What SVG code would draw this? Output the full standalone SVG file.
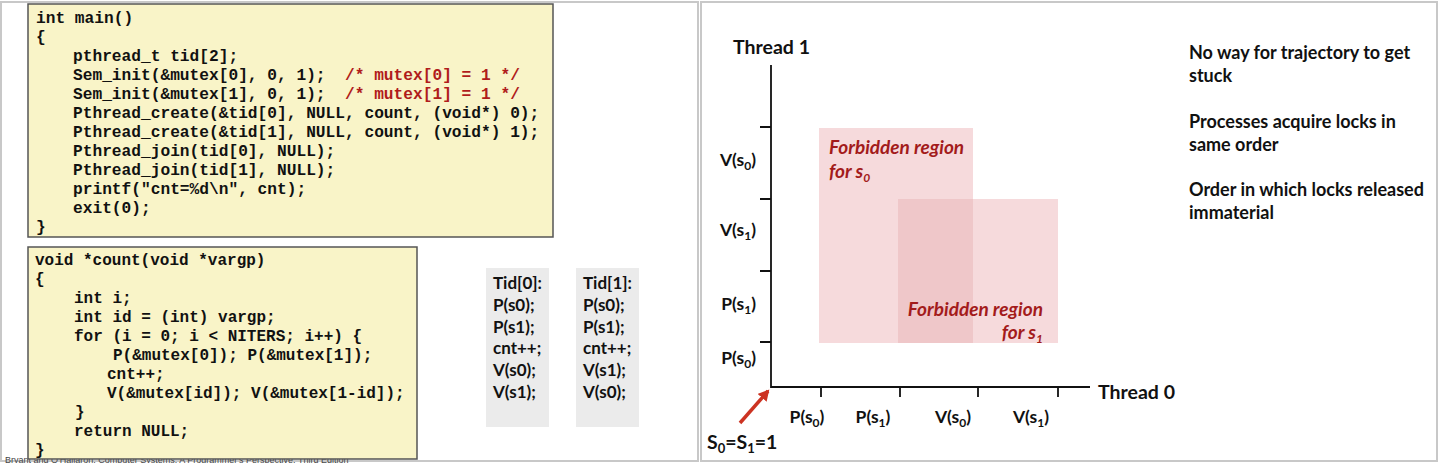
<svg xmlns="http://www.w3.org/2000/svg" width="1440" height="463" viewBox="0 0 1440 463">
<style>
.code{font-family:"Liberation Mono",monospace;font-weight:bold;font-size:16px;fill:#111}
.c1{font-size:16.2px}
.cmt{fill:#b01c1c}
.box{fill:#f9f4c8;stroke:#555;stroke-width:1.5}
.tid{fill:#ebebeb}
.tt{font-family:Lato,"Open Sans",sans-serif;font-weight:bold;font-size:17px;fill:#111}
.lbl{font-family:Lato,"Open Sans",sans-serif;font-weight:bold;font-size:17.5px;fill:#111}
.sub{font-size:12px}
.big{font-family:Lato,"Open Sans",sans-serif;font-weight:bold;font-size:19.5px;fill:#111}
.fr{font-family:Lato,"Open Sans",sans-serif;font-weight:bold;font-style:italic;font-size:19px;fill:#a31b1b}
.note{font-family:Lato,"Open Sans",sans-serif;font-weight:bold;font-size:18px;fill:#111}
.ax{stroke:#111;stroke-width:1.8;fill:none}
.reg{fill:#f6dadc}
.ovl{fill:#efc7c9}
.panel{fill:#fff;stroke:#c8c8c8;stroke-width:2}
</style>
<defs>
<marker id="ah" markerWidth="12" markerHeight="12" refX="9" refY="6" orient="auto" markerUnits="userSpaceOnUse">
<path d="M0,0 L11,6 L0,12 Z" fill="#cc3322"/>
</marker>
</defs>
<rect width="1440" height="463" fill="#fff"/>
<rect class="panel" x="1" y="2" width="697" height="459"/>
<rect class="panel" x="701" y="2" width="736" height="459"/>
<text x="5" y="463" font-family="Liberation Sans,sans-serif" font-size="9" fill="#444">Bryant and O'Hallaron, Computer Systems: A Programmer's Perspective, Third Edition</text>

<g id="main-code">
<rect class="box" x="28" y="4" width="525" height="233"/>
<text class="code c1" x="36" y="23">int main()</text>
<text class="code c1" x="36" y="42">{</text>
<text class="code c1" x="73" y="61">pthread_t tid[2];</text>
<text class="code c1" x="73" y="80" xml:space="preserve">Sem_init(&amp;mutex[0], 0, 1);  <tspan class="cmt">/* mutex[0] = 1 */</tspan></text>
<text class="code c1" x="73" y="99" xml:space="preserve">Sem_init(&amp;mutex[1], 0, 1);  <tspan class="cmt">/* mutex[1] = 1 */</tspan></text>
<text class="code c1" x="73" y="118">Pthread_create(&amp;tid[0], NULL, count, (void*) 0);</text>
<text class="code c1" x="73" y="137">Pthread_create(&amp;tid[1], NULL, count, (void*) 1);</text>
<text class="code c1" x="73" y="156">Pthread_join(tid[0], NULL);</text>
<text class="code c1" x="73" y="175">Pthread_join(tid[1], NULL);</text>
<text class="code c1" x="73" y="194">printf("cnt=%d\n", cnt);</text>
<text class="code c1" x="73" y="213">exit(0);</text>
<text class="code c1" x="36" y="232">}</text>
</g>

<g id="count-code">
<rect class="box" x="28" y="247" width="389" height="212"/>
<text class="code" x="35" y="265">void *count(void *vargp)</text>
<text class="code" x="35" y="284">{</text>
<text class="code" x="74" y="303">int i;</text>
<text class="code" x="74" y="322">int id = (int) vargp;</text>
<text class="code" x="74" y="341">for (i = 0; i &lt; NITERS; i++) {</text>
<text class="code" x="113" y="360">P(&amp;mutex[0]); P(&amp;mutex[1]);</text>
<text class="code" x="107" y="379">cnt++;</text>
<text class="code" x="107" y="398">V(&amp;mutex[id]); V(&amp;mutex[1-id]);</text>
<text class="code" x="75" y="417">}</text>
<text class="code" x="74" y="436">return NULL;</text>
<text class="code" x="35" y="455">}</text>
</g>

<g id="tid0">
<rect class="tid" x="486" y="268" width="63" height="159"/>
<text class="tt" x="493" y="289">Tid[0]:</text>
<text class="tt" x="493" y="311">P(s0);</text>
<text class="tt" x="493" y="333">P(s1);</text>
<text class="tt" x="493" y="354">cnt++;</text>
<text class="tt" x="493" y="376">V(s0);</text>
<text class="tt" x="493" y="398">V(s1);</text>
</g>
<g id="tid1">
<rect class="tid" x="576" y="268" width="63" height="159"/>
<text class="tt" x="583" y="289">Tid[1]:</text>
<text class="tt" x="583" y="311">P(s0);</text>
<text class="tt" x="583" y="333">P(s1);</text>
<text class="tt" x="583" y="354">cnt++;</text>
<text class="tt" x="583" y="376">V(s1);</text>
<text class="tt" x="583" y="398">V(s0);</text>
</g>

<g id="region-s0">
<rect class="reg" x="819" y="128" width="154" height="215"/>
</g>
<g id="region-s1">
<rect class="reg" x="898" y="199" width="160" height="144"/>
<rect class="ovl" x="898" y="199" width="75" height="144"/>
</g>
<g id="region-labels">
<text class="fr" x="829" y="154">Forbidden region</text>
<text class="fr" x="829" y="178">for s<tspan class="sub" font-size="13" dy="4">0</tspan></text>
<text class="fr" x="1043" y="316" text-anchor="end">Forbidden region</text>
<text class="fr" x="1043" y="339" text-anchor="end">for s<tspan class="sub" font-size="13" dy="4">1</tspan></text>
</g>

<g id="axes">
<path class="ax" d="M771,65 V387 H1090"/>
<path class="ax" d="M760,127 H771 M760,199 H771 M760,271 H771 M760,342 H771"/>
<path class="ax" d="M821,387 V397 M900,387 V397 M978,387 V397 M1058,387 V397"/>
<text class="big" x="733" y="54">Thread 1</text>
<text class="big" x="1098" y="399">Thread 0</text>
</g>

<g id="y-labels">
<text class="lbl" x="756" y="166" text-anchor="end">V(s<tspan class="sub" dy="4">0</tspan><tspan dy="-4">)</tspan></text>
<text class="lbl" x="756" y="236" text-anchor="end">V(s<tspan class="sub" dy="4">1</tspan><tspan dy="-4">)</tspan></text>
<text class="lbl" x="756" y="310" text-anchor="end">P(s<tspan class="sub" dy="4">1</tspan><tspan dy="-4">)</tspan></text>
<text class="lbl" x="756" y="364" text-anchor="end">P(s<tspan class="sub" dy="4">0</tspan><tspan dy="-4">)</tspan></text>
</g>
<g id="x-labels">
<text class="lbl" x="807" y="423" text-anchor="middle">P(s<tspan class="sub" dy="4">0</tspan><tspan dy="-4">)</tspan></text>
<text class="lbl" x="873" y="423" text-anchor="middle">P(s<tspan class="sub" dy="4">1</tspan><tspan dy="-4">)</tspan></text>
<text class="lbl" x="953" y="423" text-anchor="middle">V(s<tspan class="sub" dy="4">0</tspan><tspan dy="-4">)</tspan></text>
<text class="lbl" x="1031" y="423" text-anchor="middle">V(s<tspan class="sub" dy="4">1</tspan><tspan dy="-4">)</tspan></text>
</g>

<g id="connectors">
<line x1="740" y1="423" x2="768" y2="391" stroke="#cc3322" stroke-width="3.5" marker-end="url(#ah)"/>
</g>
<g id="start-label">
<text class="big" x="707" y="449">S<tspan font-size="13" dy="4">0</tspan><tspan dy="-4">=S</tspan><tspan font-size="13" dy="4">1</tspan><tspan dy="-4">=1</tspan></text>
</g>

<g id="notes">
<text class="note" x="1189" y="59">No way for trajectory to get</text>
<text class="note" x="1189" y="82">stuck</text>
<text class="note" x="1189" y="128">Processes acquire locks in</text>
<text class="note" x="1189" y="151">same order</text>
<text class="note" x="1189" y="196">Order in which locks released</text>
<text class="note" x="1189" y="219">immaterial</text>
</g>
</svg>
